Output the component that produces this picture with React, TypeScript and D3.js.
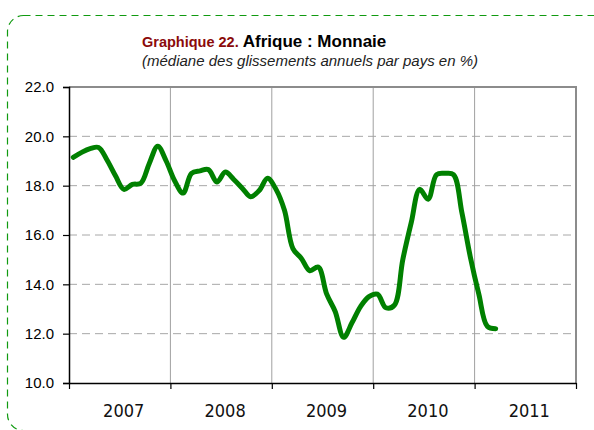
import React, { useEffect, useRef } from 'react';
import * as d3 from 'd3';

// monthly medians, Jan 2007 -> Mar 2011
const values: number[] = [
  19.15, 19.35, 19.5, 19.55, 19.04, 18.4, 17.85, 18.05, 18.1, 18.9, 19.6, 19.0,
  18.2, 17.7, 18.5, 18.6, 18.65, 18.15, 18.55, 18.25, 17.9, 17.55, 17.8, 18.3,
  17.85, 17.0, 15.45, 15.05, 14.55, 14.7, 13.6, 12.9, 11.85, 12.45, 13.1, 13.5,
  13.6, 13.05, 13.15, 15.0, 16.5, 17.85, 17.45, 18.45, 18.5, 18.45, 16.9, 15.1,
  13.6, 12.3, 12.2,
];
const years: string[] = ['2007', '2008', '2009', '2010', '2011'];
const yTicks: number[] = [10, 12, 14, 16, 18, 20, 22];

const sans = 'Arial, "Liberation Sans", sans-serif';

const App = () => {
  const svgRef = useRef<SVGSVGElement>(null);

  useEffect(() => {
    const svg = d3.select(svgRef.current);
    svg.selectAll('*').remove();

    const left = 69, right = 576, top = 87, bottom = 383;
    const x = d3.scaleLinear().domain([0, years.length * 12]).range([left, right]);
    const y = d3.scaleLinear().domain([10, 22]).range([bottom, top]);

    // frame around the whole figure
    svg.append('rect')
      .attr('x', 7.5).attr('y', 15.5)
      .attr('width', 640).attr('height', 415)
      .attr('rx', 16)
      .attr('fill', 'none')
      .attr('stroke', '#109a10')
      .attr('stroke-width', 1.2)
      .attr('stroke-dasharray', '7,5');

    // titles
    const title = svg.append('text')
      .attr('x', 142).attr('y', 47)
      .attr('font-family', sans)
      .attr('font-weight', 'bold');
    title.append('tspan').attr('fill', '#8b0a0a').attr('font-size', 14.5).text('Graphique 22. ');
    title.append('tspan').attr('fill', '#000').attr('font-size', 17).text('Afrique : Monnaie');

    svg.append('text')
      .attr('x', 142).attr('y', 66)
      .attr('font-family', sans)
      .attr('font-style', 'italic')
      .attr('font-size', 15)
      .attr('fill', '#222')
      .text('(médiane des glissements annuels par pays en %)');

    // horizontal dashed gridlines
    svg.append('g')
      .selectAll('line')
      .data(yTicks.filter(d => d > 10 && d < 22))
      .join('line')
      .attr('x1', left).attr('x2', right)
      .attr('y1', d => y(d)).attr('y2', d => y(d))
      .attr('stroke', '#a8a8a8')
      .attr('stroke-dasharray', '8,5');

    // vertical year gridlines
    svg.append('g')
      .selectAll('line')
      .data(d3.range(1, years.length))
      .join('line')
      .attr('x1', d => x(d * 12)).attr('x2', d => x(d * 12))
      .attr('y1', top).attr('y2', bottom)
      .attr('stroke', '#a0a0a0');

    // top and right border
    svg.append('path')
      .attr('d', `M${left},${top}H${right}V${bottom}`)
      .attr('fill', 'none')
      .attr('stroke', '#8c8c8c')
      .attr('stroke-width', 2);

    // y axis
    const yAxis = svg.append('g')
      .attr('transform', `translate(${left},0)`)
      .call(d3.axisLeft(y).tickValues(yTicks).tickFormat(d3.format('.1f')).tickSize(6).tickPadding(9));
    yAxis.select('.domain').attr('stroke', '#000').attr('stroke-width', 1.5);
    yAxis.selectAll('.tick line').attr('stroke', '#000').attr('stroke-width', 1.2);
    yAxis.selectAll('text')
      .attr('font-family', sans)
      .attr('font-size', 15)
      .attr('fill', '#000');

    // x axis
    const xAxis = svg.append('g')
      .attr('transform', `translate(0,${bottom})`)
      .call(d3.axisBottom(x).tickValues(d3.range(0, years.length + 1).map(d => d * 12)).tickFormat(() => '').tickSize(6).tickSizeOuter(0));
    xAxis.select('.domain').attr('stroke', '#000').attr('stroke-width', 1.5);
    xAxis.selectAll('.tick line').attr('stroke', '#000').attr('stroke-width', 1.2);

    svg.append('g')
      .selectAll('text')
      .data(years)
      .join('text')
      .attr('x', (d, i) => x(i * 12 + 6) + 4)
      .attr('y', 417)
      .attr('text-anchor', 'middle')
      .attr('font-family', '"Liberation Sans Narrow", "Arial Narrow", "DejaVu Sans Condensed", sans-serif')
      .attr('font-size', 18)
      .attr('fill', '#111')
      .text(d => d);

    // the series
    const line = d3.line<number>()
      .x((d, i) => x(i + 0.5))
      .y(d => y(d))
      .curve(d3.curveCatmullRom.alpha(0.5));

    svg.append('path')
      .datum(values)
      .attr('fill', 'none')
      .attr('stroke', '#008000')
      .attr('stroke-width', 5)
      .attr('stroke-linecap', 'round')
      .attr('stroke-linejoin', 'round')
      .attr('d', line);
  }, []);

  return (
    <svg ref={svgRef} width={594} height={430} style={{ position: 'absolute', left: 0, top: 0, background: '#fff' }} />
  );
};

export default App;
